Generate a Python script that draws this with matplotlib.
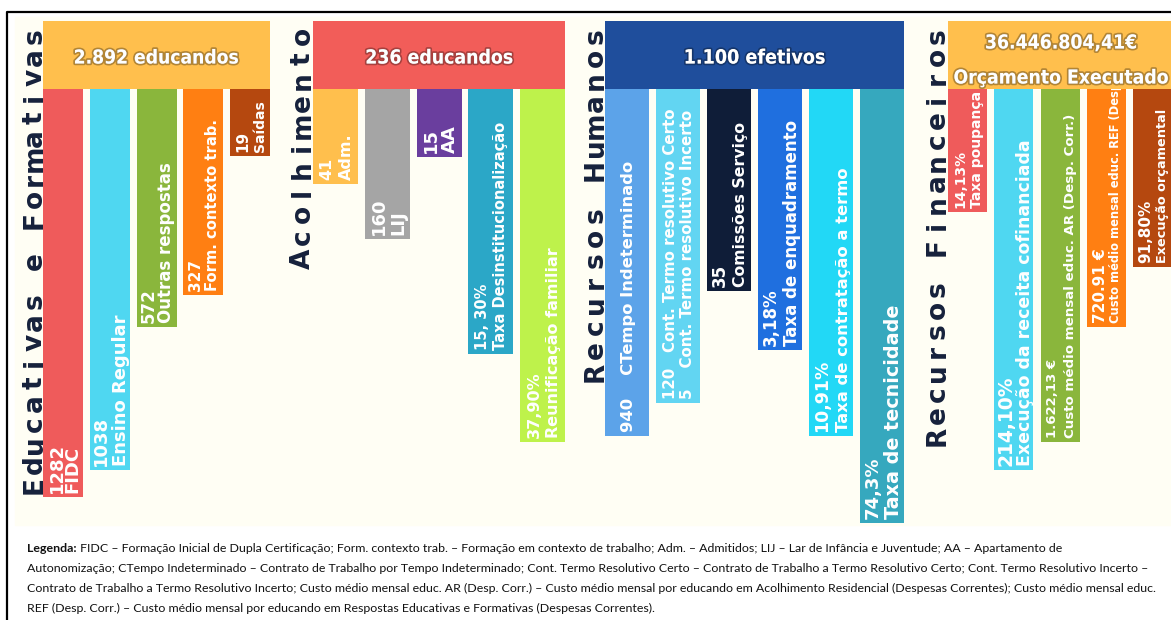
import matplotlib
matplotlib.use('Agg')
import matplotlib.pyplot as plt
import matplotlib.patheffects as pe
from matplotlib import font_manager as fm
from matplotlib.patches import Rectangle

W, H = 1171, 620

# Respostas Educativas e Formativas
ef_title = 'Educativas e Formativas'
ef_total = '2.892 educandos'
ef_values = ['1282', '1038', '572', '327', '19']
ef_names = ['FIDC', 'Ensino Regular', 'Outras respostas', 'Form. contexto trab.', 'Saídas']
ef_depth = [408, 381, 238, 206, 67]

# Acolhimento
ac_title = 'Acolhimento'
ac_total = '236 educandos'
ac_values = ['41', '160', '15', '15, 30%', '37,90%']
ac_names = ['Adm.', 'LIJ', 'AA', 'Taxa Desinstitucionalização', 'Reunificação familiar']
ac_depth = [95, 150, 68, 265, 353]

# Recursos Humanos
rh_title = 'Recursos Humanos'
rh_total = '1.100 efetivos'
rh_values = ['940', '120', '35', '3,18%', '10,91%', '74,3%']
rh_names = ['CTempo Indeterminado', 'Cont. Termo resolutivo Certo', 'Comissões Serviço',
            'Taxa de enquadramento', 'Taxa de contratação a termo', 'Taxa de tecnicidade']
rh_extra_value = '5'
rh_extra_name = 'Cont. Termo resolutivo Incerto'
rh_depth = [347, 314, 202, 261, 347, 434]

# Recursos Financeiros
rf_title = 'Recursos Financeiros'
rf_total = ['36.446.804,41€', 'Orçamento Executado']
rf_values = ['14,13%', '214,10%', '1.622,13 €', '720.91 €', '91,80%']
rf_names = ['Taxa poupança', 'Execução da receita cofinanciada',
            'Custo médio mensal educ. AR (Desp. Corr.)',
            'Custo médio mensal educ. REF (Desp. Corr.)', 'Execução orçamental']
rf_depth = [123, 381, 353, 238, 178]

legend_bold = 'Legenda:'
legend_lines = [
    ' FIDC – Formação Inicial de Dupla Certificação; Form. contexto trab. – Formação em contexto de trabalho; '
    'Adm. – Admitidos; LIJ – Lar de Infância e Juventude; AA – Apartamento de',
    'Autonomização; CTempo Indeterminado – Contrato de Trabalho por Tempo Indeterminado; Cont. Termo Resolutivo '
    'Certo – Contrato de Trabalho a Termo Resolutivo Certo; Cont. Termo Resolutivo Incerto –',
    'Contrato de Trabalho a Termo Resolutivo Incerto; Custo médio mensal educ. AR (Desp. Corr.) – Custo médio '
    'mensal por educando em Acolhimento Residencial (Despesas Correntes); Custo médio mensal educ.',
    'REF (Desp. Corr.) – Custo médio mensal por educando em Respostas Educativas e Formativas (Despesas Correntes).',
]

# colours
YEL = '#FFBF4D'
RED = '#EF5B5B'
CYA = '#4FD7F1'
GRN = '#8AB63C'
ORA = '#FF7F12'
BRN = '#B5480F'
ef_colors = [RED, CYA, GRN, ORA, BRN]
ac_colors = [YEL, '#A5A5A5', '#6A3E9E', '#2BA7C7', '#BEF24B']
rh_colors = ['#5CA3E9', '#62D5F2', '#0F1D38', '#1F6FDF', '#22D8F6', '#36A8BE']
rf_colors = [RED, CYA, GRN, ORA, BRN]

HEAD_TOP, HEAD_BOT = 21, 89
PX = 100 / 72.0


def _w(w):
    return w if isinstance(w, int) else fm.weight_dict.get(w, 400)


# headers use a condensed bold face if the machine has one
narrow = [f for f in fm.fontManager.ttflist
          if _w(f.weight) >= 700 and ('Narrow' in f.name or 'Condensed' in f.name
                                      or 'condensed' in str(f.stretch))]
if narrow:
    head_fp = fm.FontProperties(fname=narrow[0].fname)
else:
    head_fp = fm.FontProperties(family='Roboto', weight='bold')


def vtitle(ax, text, x, y0, step):
    # spaced vertical title, one glyph at a time
    for i, ch in enumerate(text):
        ax.text(x, y0 - i * step, ch, rotation=90, rotation_mode='anchor',
                ha='center', va='baseline', fontsize=19, fontweight='bold',
                color='#16213B')


def bar_labels(ax, bar, lines, sizes, gap, pad=4):
    xc = bar.get_x() + bar.get_width() / 2
    ybot = bar.get_y() + bar.get_height()
    caps = [0.73 * s * PX for s in sizes]
    start = xc - (sum(caps) + gap * (len(caps) - 1)) / 2
    for s, fs, cap in zip(lines, sizes, caps):
        t = ax.text(start + cap, ybot - pad, s, rotation=90, rotation_mode='anchor',
                    ha='left', va='baseline', fontsize=fs, fontweight='bold',
                    color='white', zorder=4, clip_on=True)
        t.set_clip_path(bar)
        start += cap + gap


head_texts = []


def group(ax, title, total, depth, colors, lines, sizes, gaps, x0, x1, bw, hx1,
          head_color, tx, ty, step, total_y, total_w):
    n = len(depth)
    pitch = (x1 - x0 - bw) / (n - 1)
    lefts = [x0 + i * pitch for i in range(n)]
    bars = ax.bar(lefts, depth, width=bw, bottom=HEAD_BOT, align='edge',
                  color=colors, zorder=2)
    ax.bar([x0], [HEAD_BOT - HEAD_TOP], width=hx1 - x0, bottom=HEAD_TOP,
           align='edge', color=head_color, zorder=2)
    if isinstance(total, str):
        total = [total]
    for s, y in zip(total, total_y):
        t = ax.text((x0 + hx1) / 2, y, s, ha='center', va='center_baseline',
                    fontproperties=head_fp, color='white',
                    path_effects=[pe.withStroke(linewidth=2.5, foreground=(0, 0, 0, 0.3))],
                    zorder=4)
        head_texts.append((t, total_w))
    for b, ln, sz, g in zip(bars, lines, sizes, gaps):
        bar_labels(ax, b, ln, sz, g)
    vtitle(ax, title, tx, ty, step)


fig = plt.figure(figsize=(W / 100, H / 100), dpi=100)
ax = fig.add_axes([0, 0, 1, 1])
ax.set_xlim(0, W)
ax.set_ylim(H, 0)
ax.axis('off')

# frame and cream panel
ax.add_patch(Rectangle((15, 17), W, 508, color='#FFFEF4', zorder=0))
ax.plot([7, 7, W + 5], [H + 5, 12, 12], color='black', lw=1.6, zorder=5)

ef_lines = [[v, nm] for v, nm in zip(ef_values, ef_names)]
ef_sizes = [[13, 13], [13, 13], [12, 12], [11, 10.6], [11, 10]]
group(ax, ef_title, ef_total, ef_depth, ef_colors, ef_lines, ef_sizes, [3, 7, 5, 6, 6],
      43, 270, 40, 270, YEL, 42, 485, 20.4, [56], 165)

ac_lines = [[v, nm] for v, nm in zip(ac_values, ac_names)]
ac_sizes = [[11.5, 11.5], [13, 13], [13, 13], [10.5, 10.5], [11.5, 11.5]]
group(ax, ac_title, ac_total, ac_depth, ac_colors, ac_lines, ac_sizes, [8, 6, 6, 8, 8],
      313, 565, 45, 565, '#F25D59', 310, 259, 22.3, [56], 148)

rh_lines = [[v, nm] for v, nm in zip(rh_values, rh_names)]
rh_lines[0] = [rh_values[0] + '    ' + rh_names[0]]
rh_lines[1] = [rh_values[1] + '   ' + rh_names[1], rh_extra_value + '    ' + rh_extra_name]
rh_sizes = [[11.8], [10.8, 10.8], [12, 11.3], [12, 12], [12.5, 11.8], [13, 13.8]]
group(ax, rh_title, rh_total, rh_depth, rh_colors, rh_lines, rh_sizes, [0, 6, 9, 9, 9, 7],
      605, 904, 44, 904, '#1F4E9C', 603, 372, 22.4, [56], 142)

rf_lines = [[v, nm] for v, nm in zip(rf_values, rf_names)]
rf_sizes = [[10, 10], [13.5, 12.5], [9.5, 9.6], [11, 8.3], [11, 9.3]]
group(ax, rf_title, rf_total, rf_depth, rf_colors, rf_lines, rf_sizes, [7, 6, 8, 6, 6],
      948, 1172, 39, 1174, YEL, 945, 436, 21.05, [41, 76], 152)

# fit header texts and legend to the widths
fig.canvas.draw()
r = fig.canvas.get_renderer()
for t, target in head_texts:
    t.set_fontsize(20)
    w = t.get_window_extent(r).width
    t.set_fontsize(20 * target / w)
# keep both budget lines at the same size
rf_t = [t for t, _ in head_texts[-2:]]
rf_t[1].set_fontsize(rf_t[0].get_fontsize())

probe = ax.text(0, 0, legend_lines[1], fontsize=10, family='Lato')
fs = 10 * 1123 / probe.get_window_extent(r).width
probe.remove()

ys = [548, 568, 588, 608]
lb = ax.text(27, ys[0], legend_bold, fontsize=fs, family='Lato', fontweight='bold',
             va='center', color='#111111')
x_after = lb.get_window_extent(r).x1
ax.text(x_after, ys[0], legend_lines[0], fontsize=fs, family='Lato',
        va='center', color='#111111')
for y, s in zip(ys[1:], legend_lines[1:]):
    ax.text(27, y, s, fontsize=fs, family='Lato', va='center', color='#111111')

fig.savefig('out.png', dpi=100, facecolor='white')
